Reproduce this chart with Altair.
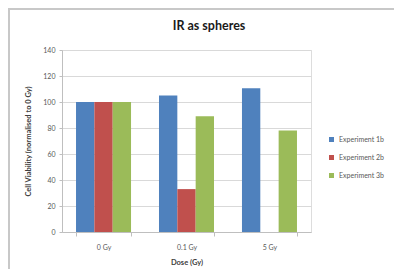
import altair as alt
import pandas as pd

doses = ["0 Gy", "0.1 Gy", "5 Gy"]
experiments = ["Experiment 1b", "Experiment 2b", "Experiment 3b"]
exp1 = [100, 105, 110.5]
exp2 = [100, 33, None]
exp3 = [100, 89, 78]
colors = ["#4F81BD", "#C0504D", "#9BBB59"]
title_text = ["IR as spheres"]

rows = []
for name, vals in zip(experiments, [exp1, exp2, exp3]):
    for d, v in zip(doses, vals):
        if v is not None:
            rows.append({"dose": d, "experiment": name, "value": v})
df = pd.DataFrame(rows)

FONT = "Lato"
LABEL_COLOR = "#595959"

bars = alt.Chart(df).mark_bar().encode(
    x=alt.X("dose:N", sort=doses, title="Dose (Gy)",
            scale=alt.Scale(paddingInner=0.337, paddingOuter=0.169),
            axis=alt.Axis(labelAngle=0, tickBand="extent", tickSize=4,
                          labelPadding=7, titlePadding=8, domainColor="#BFBFBF",
                          tickColor="#BFBFBF", labelFontSize=7, labelColor=LABEL_COLOR,
                          titleFontSize=7.5, titleFont=FONT, labelFont=FONT,
                          titleColor="#404040", titleFontWeight="bold", grid=False)),
    xOffset=alt.XOffset("experiment:N", sort=experiments,
                        scale=alt.Scale(paddingInner=0, paddingOuter=0)),
    y=alt.Y("value:Q", title="Cell Viability (normalised to 0 Gy)",
            scale=alt.Scale(domain=[0, 140], nice=False),
            axis=alt.Axis(values=[0, 20, 40, 60, 80, 100, 120, 140], tickSize=3,
                          labelPadding=4, titlePadding=10, domainColor="#BFBFBF",
                          tickColor="#BFBFBF", gridColor="#D9D9D9", labelFontSize=7,
                          labelColor=LABEL_COLOR, labelFont=FONT, titleFont=FONT,
                          titleFontSize=7.5, titleColor="#404040", titleFontWeight="bold")),
    color=alt.Color("experiment:N", sort=experiments,
                    scale=alt.Scale(domain=experiments, range=colors),
                    legend=alt.Legend(title=None, orient="none", legendX=266, legendY=86,
                                      symbolType="square", symbolSize=25, symbolStrokeWidth=0,
                                      labelFontSize=7, labelColor=LABEL_COLOR, labelFont=FONT,
                                      labelOffset=4, rowPadding=10)),
)

frame_h = alt.Chart(pd.DataFrame({"a": [0]})).mark_rule(color="#C8C8C8", strokeWidth=2).encode(
    x=alt.value(-60), x2=alt.value(400), y=alt.value(-41)
)
frame_v = alt.Chart(pd.DataFrame({"a": [0]})).mark_rule(color="#C8C8C8", strokeWidth=2).encode(
    x=alt.value(-53), y=alt.value(-42), y2=alt.value(240)
)
title = alt.Chart(pd.DataFrame({"t": title_text})).mark_text(
    font=FONT, fontSize=12.5, fontWeight="bold", color="#1a1a1a", baseline="middle", align="center"
).encode(text="t:N", x=alt.value(147), y=alt.value(-24))

chart = alt.layer(frame_h, frame_v, title, bars).properties(
    width=249, height=182,
    autosize=alt.AutoSizeParams(type="none"),
    padding={"left": 54, "top": 42, "right": 83, "bottom": 37},
).configure_view(stroke=None).configure(background="white")

chart.save("out.html", embed_options={"renderer": "svg", "actions": False})
